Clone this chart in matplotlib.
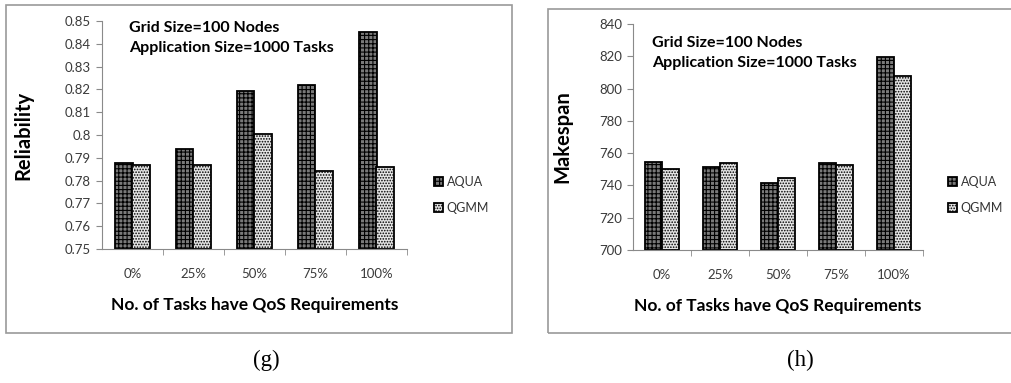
import matplotlib.pyplot as plt
from matplotlib.patches import Rectangle
import numpy as np

plt.rcParams['hatch.linewidth'] = 0.8

categories = ["0%", "25%", "50%", "75%", "100%"]
series_names = ["AQUA", "QGMM"]
rel_aqua = [0.7876, 0.7937, 0.8193, 0.8218, 0.8450]
rel_qgmm = [0.7867, 0.7867, 0.8003, 0.7841, 0.7858]
mk_aqua = [754.7, 751.2, 741.7, 754.1, 819.4]
mk_qgmm = [750.4, 754.1, 744.8, 752.5, 807.6]

W, H = 1012, 383
fig = plt.figure(figsize=(W / 100, H / 100), dpi=100)

def px_axes(x0, x1, ytop, ybot):
    return fig.add_axes([x0 / W, 1 - ybot / H, (x1 - x0) / W, (ybot - ytop) / H])

# panel frames
fig.patches.append(Rectangle((6 / W, 1 - 333 / H), 506 / W, 328 / H, transform=fig.transFigure,
                             fill=False, edgecolor="#9a9a9a", linewidth=1.2))
fig.patches.append(Rectangle((548 / W, 1 - 333 / H), 480 / W, 324 / H, transform=fig.transFigure,
                             fill=False, edgecolor="#9a9a9a", linewidth=1.2))

tick_font = dict(family="Lato", size=9.5, color="#3a3a3a")
bold_font = dict(family="Lato", weight="bold", color="black")


def panel(ax, a_vals, q_vals, ylim, yticks, ytick_labels, ylabel, ylab_x):
    x = np.arange(len(categories)) + 0.5
    bw = 0.29
    ax.bar(x - bw / 2, [v - ylim[0] for v in a_vals], bw, bottom=ylim[0],
           facecolor="#7a7a7a", edgecolor="black", hatch="++++", linewidth=1.3, label=series_names[0])
    ax.bar(x + bw / 2, [v - ylim[0] for v in q_vals], bw, bottom=ylim[0],
           facecolor="#e6e6e6", edgecolor="black", hatch="......", linewidth=1.3, label=series_names[1])
    ax.set_xlim(0, len(categories))
    ax.set_ylim(*ylim)
    ax.set_yticks(yticks)
    ax.set_yticklabels(ytick_labels, fontdict=tick_font)
    ax.set_xticks(x)
    ax.set_xticklabels(categories, fontdict=tick_font)
    ax.set_xticks(np.arange(1, len(categories) + 1), minor=True)
    ax.tick_params(axis="x", which="major", length=0, pad=14)
    ax.tick_params(axis="x", which="minor", length=4, color="#8a8a8a", direction="out")
    ax.tick_params(axis="y", length=4, color="#8a8a8a", direction="out", pad=4)
    for s in ["top", "right"]:
        ax.spines[s].set_visible(False)
    ax.spines["left"].set_color("#8a8a8a")
    ax.spines["bottom"].set_color("#8a8a8a")
    ax.set_facecolor("none")
    ax.set_ylabel(ylabel, fontdict=dict(bold_font, size=14.5))
    ax.yaxis.set_label_coords(ylab_x, 0.5)
    ax.set_xlabel("No. of Tasks have QoS Requirements", fontdict=dict(bold_font, size=12.5), labelpad=12)


ax1 = px_axes(102, 407, 21, 249)
panel(ax1, rel_aqua, rel_qgmm, (0.75, 0.85), np.arange(0.75, 0.851, 0.01),
      ["0.75", "0.76", "0.77", "0.78", "0.79", "0.8", "0.81", "0.82", "0.83", "0.84", "0.85"],
      "Reliability", (33 - 102) / 305)
ax2 = px_axes(633, 923, 24, 250)
panel(ax2, mk_aqua, mk_qgmm, (700, 840), np.arange(700, 841, 20),
      [str(v) for v in range(700, 841, 20)], "Makespan", (572 - 633) / 290)

for tx, ty in [(129, 28), (652, 43)]:
    fig.text(tx / W, 1 - ty / H, "Grid Size=100 Nodes", va="center", ha="left", size=11.5, **bold_font)
    fig.text(tx / W, 1 - (ty + 20) / H, "Application Size=1000 Tasks", va="center", ha="left", size=11.5, **bold_font)

for ax, lx in [(ax1, 434), (ax2, 948)]:
    h, l = ax.get_legend_handles_labels()
    fig.legend(h, l, loc="upper left", bbox_to_anchor=(lx / W, 1 - 176 / H), frameon=False,
               borderpad=0, borderaxespad=0,
               handlelength=0.7, handleheight=0.7, handletextpad=0.3, labelspacing=1.1,
               prop=dict(family="Lato", size=9), labelcolor="#333333")

fig.text(266 / W, 1 - 360 / H, "(g)", ha="center", va="center", family="Liberation Serif", size=16.5)
fig.text(800 / W, 1 - 360 / H, "(h)", ha="center", va="center", family="Liberation Serif", size=16.5)

fig.savefig("out.png", dpi=100)
